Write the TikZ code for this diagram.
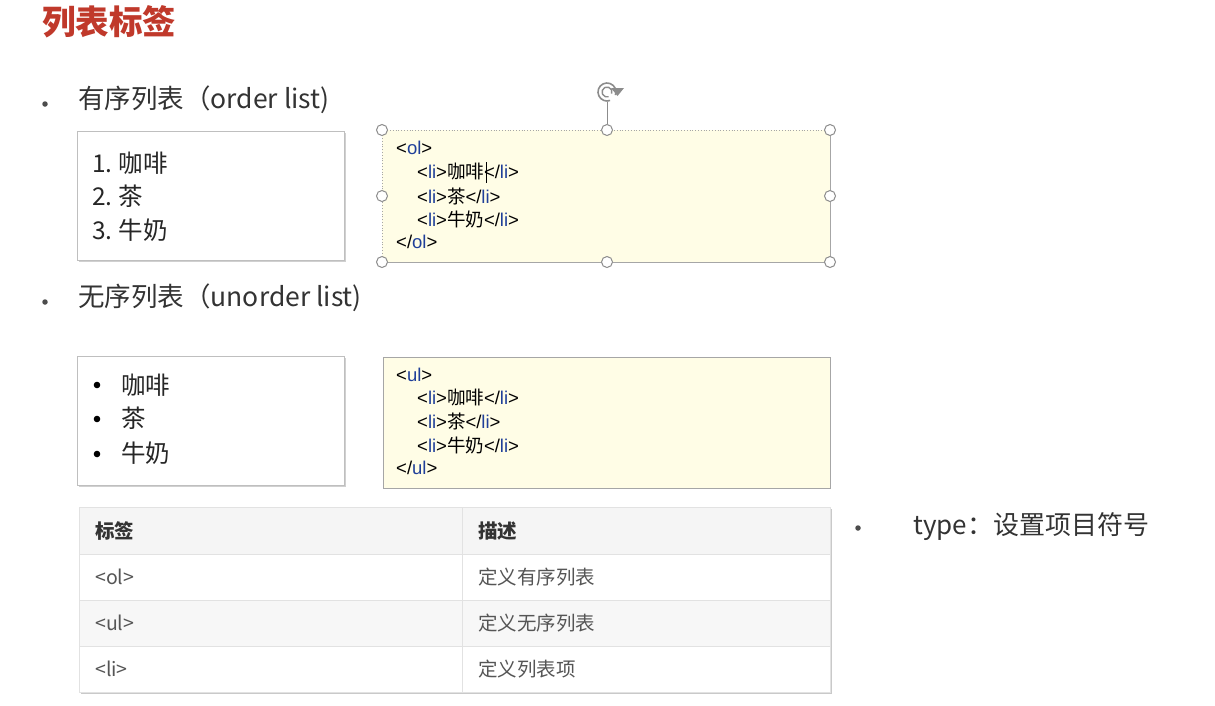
\documentclass[tikz,border=0pt]{standalone}
\usepackage{fontspec}
\setmainfont{Noto Sans CJK SC}
\newfontfamily\codefont{Liberation Sans}
\newfontfamily\cjkfont{Noto Sans CJK SC}
\usetikzlibrary{shadows,arrows.meta}
\definecolor{titlered}{HTML}{C0392B}
\definecolor{txt}{HTML}{333333}
\definecolor{codeblue}{HTML}{1F3F99}
\definecolor{codefill}{HTML}{FFFDE6}
\definecolor{bordergray}{HTML}{A6A6A6}
\definecolor{tblline}{HTML}{E2E2E2}
\definecolor{tblhead}{HTML}{F5F5F5}
\definecolor{tblalt}{HTML}{F7F7F7}
\definecolor{tbltxt}{HTML}{555555}
\newcommand\bl[1]{\textcolor{codeblue}{#1}}
\newcommand\cc[1]{{\cjkfont #1}}
\begin{document}
\begin{tikzpicture}[x=1pt,y=-1pt,
  bigtext/.style={anchor=west,inner sep=0pt,text=txt,font=\fontsize{26.5}{30}\selectfont},
  listtext/.style={anchor=west,inner sep=0pt,text=black!85,font=\fontsize{24.5}{28}\selectfont},
  codetext/.style={anchor=west,inner sep=0pt,text=black,font=\codefont\fontsize{18.5}{22}\selectfont},
  tbltext/.style={anchor=west,inner sep=0pt,text=tbltxt,font=\fontsize{19.5}{23}\selectfont},
  tblhtext/.style={anchor=west,inner sep=0pt,text=txt,font=\bfseries\fontsize{19.5}{23}\selectfont},
  whitebox/.style={draw=black!25,fill=white,line width=0.8pt,drop shadow={shadow xshift=1.5pt,shadow yshift=-1.5pt,opacity=0.3,fill=black!60}},
  codebox/.style={fill=codefill,line width=0.8pt},
  handle/.style={circle,draw=black!45,fill=white,line width=1pt,minimum size=11pt,inner sep=0pt},
  bdot/.style={circle,fill=black!70,inner sep=0pt,minimum size=5.5pt}
]
\useasboundingbox (0,0) rectangle (1215,705);
\fill[white] (0,0) rectangle (1215,705);

% title
\node[anchor=west,inner sep=0pt,text=titlered,font=\bfseries\fontsize{33.5}{38}\selectfont] (title) at (42,22) {列表标签};

% ordered list heading
\node[bdot] (b1) at (45,104) {};
\node[bigtext] (h1) at (78,100) {有序列表（order list)};

% ordered list box
\node[whitebox,minimum width=267pt,minimum height=129pt,anchor=north west,inner sep=0pt] (olbox) at (77,131) {};
\node[listtext] (ol1) at (92,163) {1.\kern6pt咖啡};
\node[listtext] (ol2) at (92,196) {2.\kern6pt茶};
\node[listtext] (ol3) at (92,230) {3.\kern6pt牛奶};

% code box 1 (selected)
\path[codebox] (382,130) rectangle (830,262);
\coordinate (c1nw) at (382,130);
\coordinate (c1ne) at (830,130);
\coordinate (c1sw) at (382,262);
\coordinate (c1se) at (830,262);
\draw[bordergray,line width=0.8pt,dotted] (c1sw) -- (c1nw) -- (c1ne);
\draw[bordergray,line width=0.8pt] (c1ne) -- (c1se) -- (c1sw);
\node[codetext] (ca1) at (396,148) {<\bl{ol}>};
\node[codetext] (ca2) at (417,172) {<\bl{li}>\cc{咖啡}</\bl{li}>};
\node[codetext] (ca3) at (417,196) {<\bl{li}>\cc{茶}</\bl{li}>};
\node[codetext] (ca4) at (417,219) {<\bl{li}>\cc{牛奶}</\bl{li}>};
\node[codetext] (ca5) at (396,242) {</\bl{ol}>};
\coordinate (curtop) at (486,162);
\coordinate (curbot) at (486,183);
\draw[black,line width=1pt] (curtop) -- (curbot);
% rotation handle
\coordinate (rotb) at (607,102);
\node[handle] (hn) at (607,130) {};
\draw[black!45,line width=1pt] (rotb) -- (hn);
\draw[black!45,line width=1.6pt] (607,92) ++(-20:9pt) arc[start angle=-20,end angle=290,radius=9pt];
\draw[black!45,line width=1.4pt] (607,92) ++(-20:5pt) arc[start angle=-20,end angle=290,radius=5pt];
\fill[black!45] (611,88) -- (624,88) -- (617.5,96) -- cycle;
\node[handle] at (382,130) {};
\node[handle] at (830,130) {};
\node[handle] at (382,196) {};
\node[handle] at (830,196) {};
\node[handle] at (382,262) {};
\node[handle] at (607,262) {};
\node[handle] at (830,262) {};

% unordered list heading
\node[bdot] (b2) at (45,302) {};
\node[bigtext] (h2) at (78,298) {无序列表（unorder list)};

% unordered list box
\node[whitebox,minimum width=267pt,minimum height=129pt,anchor=north west,inner sep=0pt] (ulbox) at (77,356) {};
\fill[black] (97,385) circle (3.3pt);
\fill[black] (97,419) circle (3.3pt);
\fill[black] (97,454) circle (3.3pt);
\node[listtext] (ul1) at (121,385) {咖啡};
\node[listtext] (ul2) at (121,418) {茶};
\node[listtext] (ul3) at (121,453) {牛奶};

% code box 2
\node[codebox,draw=bordergray,minimum width=447pt,minimum height=131pt,anchor=north west,inner sep=0pt] (code2) at (383,357) {};
\node[codetext] (cb1) at (396,375) {<\bl{ul}>};
\node[codetext] (cb2) at (417,398) {<\bl{li}>\cc{咖啡}</\bl{li}>};
\node[codetext] (cb3) at (417,421) {<\bl{li}>\cc{茶}</\bl{li}>};
\node[codetext] (cb4) at (417,445) {<\bl{li}>\cc{牛奶}</\bl{li}>};
\node[codetext] (cb5) at (396,468) {</\bl{ul}>};

% table
\path[fill=white,drop shadow={shadow xshift=1.5pt,shadow yshift=-2pt,opacity=0.35,fill=black!60}] (79,507) rectangle (830,692);
\fill[tblhead] (79,507) rectangle (830,554);
\fill[white] (79,554) rectangle (830,600);
\fill[tblalt] (79,600) rectangle (830,646);
\fill[white] (79,646) rectangle (830,692);
\draw[tblline,line width=0.8pt] (79,507) rectangle (830,692);
\draw[tblline,line width=0.8pt] (79,554) -- (830,554);
\draw[tblline,line width=0.8pt] (79,600) -- (830,600);
\draw[tblline,line width=0.8pt] (79,646) -- (830,646);
\draw[tblline,line width=0.8pt] (462,507) -- (462,692);
\node[tblhtext] (th1) at (95,531) {标签};
\node[tblhtext] (th2) at (478,531) {描述};
\node[tbltext] (t11) at (95,577) {<ol>};
\node[tbltext] (t12) at (478,577) {定义有序列表};
\node[tbltext] (t21) at (95,623) {<ul>};
\node[tbltext] (t22) at (478,623) {定义无序列表};
\node[tbltext] (t31) at (95,669) {<li>};
\node[tbltext] (t32) at (478,669) {定义列表项};

% type note
\node[bdot] (b3) at (858,528) {};
\node[anchor=west,inner sep=0pt,text=txt,font=\fontsize{26}{30}\selectfont] (typ) at (913,527) {type：设置项目符号};
\end{tikzpicture}
\end{document}
